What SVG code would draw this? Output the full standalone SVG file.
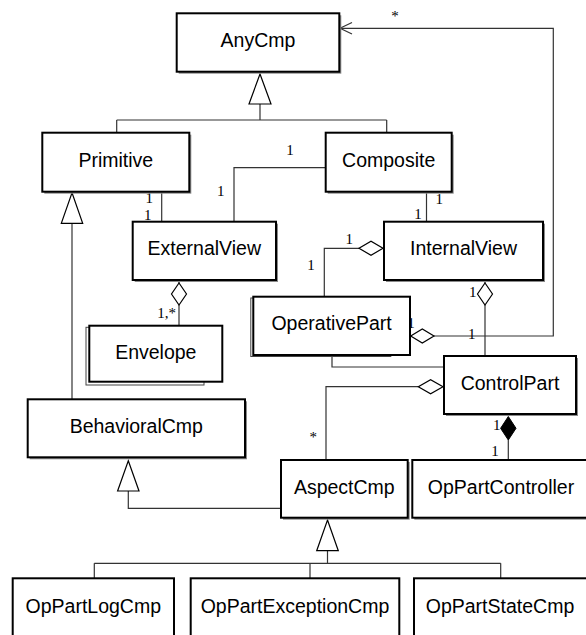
<svg xmlns="http://www.w3.org/2000/svg" width="586" height="635" viewBox="0 0 586 635">
  <style>
    .box { fill: #ffffff; stroke: #000000; stroke-width: 2; }
    .shadow { fill: #8a8a8a; stroke: none; }
    .stack { fill: #ffffff; stroke: #444444; stroke-width: 1; }
    .name { font-family: "Liberation Sans", Arial, sans-serif; font-size: 19.5px; text-anchor: middle; fill: #000000; }
    .mult { font-family: "Liberation Serif", "Times New Roman", serif; font-size: 15px; text-anchor: middle; fill: #000000; }
    .line { fill: none; stroke: #333333; stroke-width: 1.2; }
    .gen { fill: #ffffff; stroke: #000000; stroke-width: 1.2; }
    .agg { fill: #ffffff; stroke: #000000; stroke-width: 1.2; }
    .comp { fill: #000000; stroke: #000000; stroke-width: 1; }
  </style>

  <!-- connectors -->
  <g id="connectors">
    <!-- Primitive / Composite specialise AnyCmp -->
    <path class="line" d="M260 104 V120 M116.7 120 H386.7 M116.7 120 V132.7 M386.7 120 V132.7"/>
    <polygon class="gen" points="260,74 271,104 249,104"/>

    <!-- BehavioralCmp specialises Primitive -->
    <path class="line" d="M72 223.3 V399.3"/>
    <polygon class="gen" points="72,192.7 82.7,223.3 61.3,223.3"/>

    <!-- AspectCmp specialises BehavioralCmp -->
    <path class="line" d="M128.3 491 V508.3 H281"/>
    <polygon class="gen" points="128.3,460.7 139,491 117.6,491"/>

    <!-- leaf components specialise AspectCmp -->
    <path class="line" d="M327.5 550.7 V563.3 M94.3 563.3 H500.7 M94.3 563.3 V578.3 M310 563.3 V578.3 M500.7 563.3 V578.3"/>
    <polygon class="gen" points="327.5,520 338.3,550.7 316.7,550.7"/>

    <!-- Primitive - ExternalView -->
    <path class="line" d="M161.7 191.7 V221.7"/>
    <!-- Composite - ExternalView -->
    <path class="line" d="M325.7 167.7 H234 V221.7"/>
    <!-- Composite - InternalView -->
    <path class="line" d="M426.5 191.7 V221.7"/>

    <!-- ExternalView <>- Envelope -->
    <path class="line" d="M179 280 V283 M179 305 V325.7"/>
    <polygon class="agg" points="179,283 186.5,294 179,305 171.5,294"/>

    <!-- InternalView <>- OperativePart -->
    <path class="line" d="M359 248.3 H324.3 V296.7"/>
    <polygon class="agg" points="383,248.3 371,255.3 359,248.3 371,241.3"/>

    <!-- InternalView <>- ControlPart -->
    <path class="line" d="M485 280 V283 M485 305 V356"/>
    <polygon class="agg" points="485,283 492.5,294 485,305 477.5,294"/>

    <!-- OperativePart <>- AnyCmp (navigable) -->
    <path class="line" d="M434 336 H553.3 V28.3 H340"/>
    <polygon class="agg" points="410.7,336 422.3,329 434,336 422.3,343"/>
    <path class="line" d="M352 22.5 L340 28.3 L352 34"/>

    <!-- OperativePart - ControlPart -->
    <path class="line" d="M332 355 V367 H444"/>

    <!-- ControlPart <>- AspectCmp -->
    <path class="line" d="M418.3 386.7 H326 V460"/>
    <polygon class="agg" points="443,386.7 430.6,393.7 418.3,386.7 430.6,379.7"/>

    <!-- ControlPart <#>- OpPartController -->
    <path class="line" d="M508.3 440 V460"/>
    <polygon class="comp" points="508.3,416.5 516,428.3 508.3,440 500.6,428.3"/>

    <!-- multiplicities -->
    <text class="mult" x="395" y="21">*</text>
    <text class="mult" x="290" y="155">1</text>
    <text class="mult" x="220.7" y="196">1</text>
    <text class="mult" x="149.3" y="203">1</text>
    <text class="mult" x="147.7" y="220">1</text>
    <text class="mult" x="439.3" y="204">1</text>
    <text class="mult" x="418" y="219">1</text>
    <text class="mult" x="349.3" y="243.5">1</text>
    <text class="mult" x="311" y="270">1</text>
    <text class="mult" x="166.7" y="318">1,*</text>
    <text class="mult" x="472.7" y="297">1</text>
    <text class="mult" x="411" y="328">1</text>
    <text class="mult" x="471.7" y="338.5">1</text>
    <text class="mult" x="313.3" y="442">*</text>
    <text class="mult" x="496.7" y="430">1</text>
    <text class="mult" x="495" y="456">1</text>
  </g>

  <!-- classes -->
  <g id="AnyCmp">
    <rect class="shadow" x="178.7" y="15.3" width="162.6" height="58.4"/>
    <rect class="box" x="176.7" y="13.3" width="162.6" height="58.4"/>
    <text class="name" x="258" y="47">AnyCmp</text>
  </g>

  <g id="Primitive">
    <rect class="shadow" x="44.3" y="134.7" width="147" height="59"/>
    <rect class="box" x="42.3" y="132.7" width="147" height="59"/>
    <text class="name" x="115.8" y="166.7">Primitive</text>
  </g>

  <g id="Composite">
    <rect class="shadow" x="327.7" y="134.7" width="126" height="59"/>
    <rect class="box" x="325.7" y="132.7" width="126" height="59"/>
    <text class="name" x="388.7" y="166.7">Composite</text>
  </g>

  <g id="ExternalView">
    <rect class="shadow" x="134.7" y="223.7" width="143.3" height="58.3"/>
    <rect class="box" x="132.7" y="221.7" width="143.3" height="58.3"/>
    <text class="name" x="204.3" y="255">ExternalView</text>
  </g>

  <g id="InternalView">
    <rect class="shadow" x="386" y="223.7" width="159" height="58.3"/>
    <rect class="box" x="384" y="221.7" width="159" height="58.3"/>
    <text class="name" x="463.5" y="255">InternalView</text>
  </g>

  <g id="Envelope">
    <rect class="stack" x="86" y="327.3" width="118" height="57.7"/>
    <rect class="box" x="89.3" y="325.7" width="133" height="56"/>
    <text class="name" x="155.8" y="359.3">Envelope</text>
  </g>

  <g id="OperativePart">
    <rect class="stack" x="250.8" y="298" width="140" height="58.5"/>
    <rect class="box" x="253.3" y="296.7" width="156.7" height="58.3"/>
    <text class="name" x="331.6" y="330">OperativePart</text>
  </g>

  <g id="ControlPart">
    <rect class="shadow" x="446" y="358" width="132" height="58"/>
    <rect class="box" x="444" y="356" width="132" height="58"/>
    <text class="name" x="510" y="390">ControlPart</text>
  </g>

  <g id="BehavioralCmp">
    <rect class="shadow" x="29.7" y="401.3" width="217.3" height="58"/>
    <rect class="box" x="27.7" y="399.3" width="217.3" height="58"/>
    <text class="name" x="136.3" y="433.3">BehavioralCmp</text>
  </g>

  <g id="AspectCmp">
    <rect class="shadow" x="283" y="462" width="126.7" height="57.7"/>
    <rect class="box" x="281" y="460" width="126.7" height="57.7"/>
    <text class="name" x="344.3" y="493.5">AspectCmp</text>
  </g>

  <g id="OpPartController">
    <rect class="shadow" x="414.3" y="462" width="180" height="57.7"/>
    <rect class="box" x="412.3" y="460" width="180" height="57.7"/>
    <text class="name" x="501" y="493.5">OpPartController</text>
  </g>

  <g id="OpPartLogCmp">
    <rect class="box" x="12.7" y="578.3" width="161.3" height="70"/>
    <text class="name" x="93.3" y="612.7">OpPartLogCmp</text>
  </g>

  <g id="OpPartExceptionCmp">
    <rect class="box" x="190.7" y="578.3" width="208.6" height="70"/>
    <text class="name" x="295" y="612.7">OpPartExceptionCmp</text>
  </g>

  <g id="OpPartStateCmp">
    <rect class="box" x="414" y="578.3" width="180" height="70"/>
    <text class="name" x="500" y="612.7">OpPartStateCmp</text>
  </g>
</svg>
